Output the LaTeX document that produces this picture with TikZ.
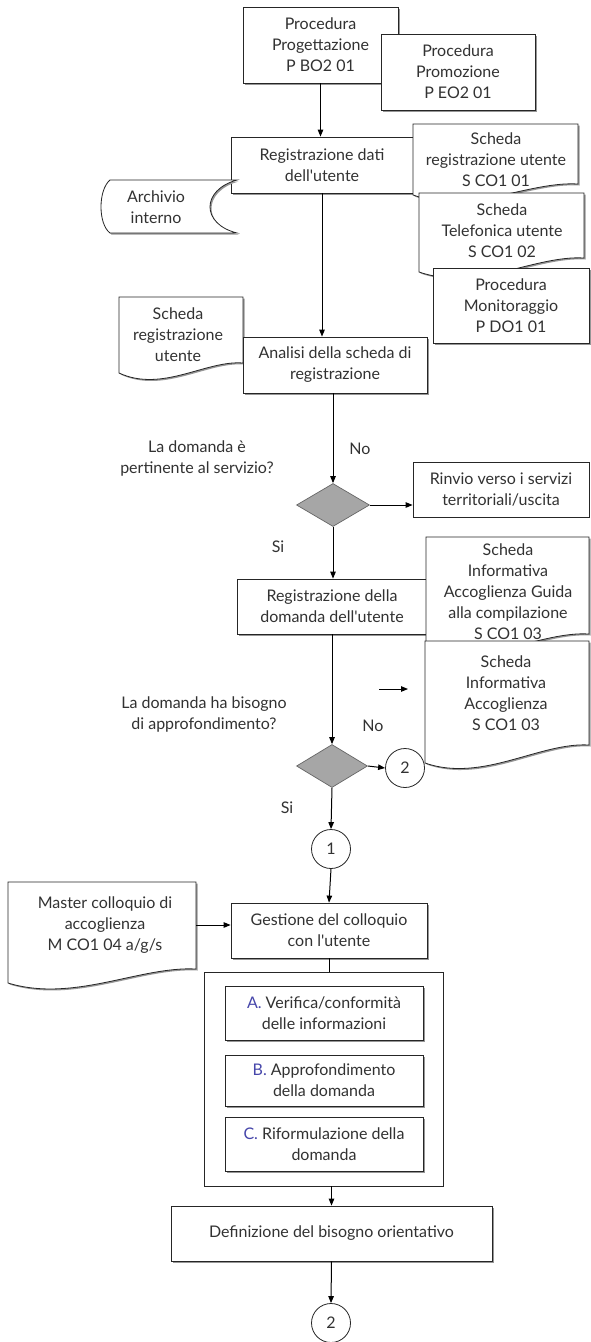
\documentclass[tikz,border=0pt]{standalone}
\usepackage{fontspec}
\setmainfont{Lato}
\usetikzlibrary{shapes.geometric, arrows.meta, shadows}
\definecolor{txtgrey}{RGB}{50, 50, 50}
\definecolor{diagrey}{RGB}{166, 166, 166}
\definecolor{letblue}{RGB}{70, 70, 170}
\definecolor{shadegrey}{RGB}{150, 150, 150}

% document shape: left, top, right, bottom left, bottom right
\newcommand{\docframe}[5]{%
  \path[fill=shadegrey, shift={(1.5,1.5)}] (#1,#2) -- (#3,#2) -- (#3,#5)
    .. controls ({#3-0.3*(#3-#1)},{#5-3}) and ({#1+0.35*(#3-#1)},{#4+20}) .. (#1,#4) -- cycle;
  \draw[doc] (#1,#2) -- (#3,#2) -- (#3,#5)
    .. controls ({#3-0.3*(#3-#1)},{#5-3}) and ({#1+0.35*(#3-#1)},{#4+20}) .. (#1,#4) -- cycle;}

\begin{document}
\begin{tikzpicture}[x=1pt, y=-1pt,
  font=\fontsize{16}{21}\selectfont, text=txtgrey,
  box/.style={draw=black!85, fill=white, line width=0.8pt, align=center, inner sep=2pt},
  shbox/.style={box, drop shadow={shadow xshift=1.5pt, shadow yshift=-1.5pt, fill=shadegrey, opacity=1}},
  doc/.style={draw=black!85, fill=white, line width=0.8pt},
  txt/.style={align=center, inner sep=0pt},
  decision/.style={diamond, draw=black!60, fill=diagrey, inner sep=0pt, line width=0.7pt},
  conn/.style={circle, draw=black!85, fill=white, minimum size=39pt, inner sep=0pt, line width=0.8pt},
  arr/.style={line width=1pt, -{Triangle[length=7pt, width=5.5pt]}}]

  \fill[white] (0,0) rectangle (590,1342);
  \useasboundingbox (0,0) rectangle (590,1342);

  % Procedures at the top
  \node[shbox, minimum width=155pt, minimum height=76pt] (progett) at (320.5,45) {Procedura\\Progettazione\\P BO2 01};
  \node[shbox, minimum width=154pt, minimum height=76pt] (promoz) at (458,72) {Procedura\\Promozione\\P EO2 01};

  % Registrazione dati
  \node[shbox, minimum width=182pt, minimum height=56pt] (regdati) at (322,165) {Registrazione dati\\dell\textquotesingle utente};
  \draw[arr] (progett.south) -- (progett.south |- regdati.north);

  % Archivio interno
  \path[fill=shadegrey, shift={(1.5,1.5)}] (110,180) -- (237,180) .. controls (201,190) and (201,224) .. (237,233)
    -- (110,233) .. controls (98,224) and (98,190) .. (110,180) -- cycle;
  \draw[doc] (110,180) -- (237,180) .. controls (201,190) and (201,224) .. (237,233)
    -- (110,233) .. controls (98,224) and (98,190) .. (110,180) -- cycle;
  \node[txt] (archivio) at (156,207) {Archivio\\interno};

  % Schede on the right
  \docframe{413}{124}{578}{195}{184}
  \node[txt] (schedareg) at (496,160) {Scheda\\registrazione utente\\S CO1 01};
  \docframe{419}{193}{584}{272}{258}
  \node[txt] (schedatel) at (502,231) {Scheda\\Telefonica utente\\S CO1 02};
  \node[shbox, minimum width=156pt, minimum height=75pt] (monitor) at (511,305.5) {Procedura\\Monitoraggio\\P DO1 01};

  % Analisi
  \docframe{119}{297}{243}{373}{363}
  \node[txt] (schedareg2) at (178,335) {Scheda\\registrazione\\utente};
  \node[shbox, minimum width=184pt, minimum height=56pt] (analisi) at (335,365) {Analisi della scheda di\\registrazione};
  \draw[arr] (regdati.south) -- (regdati.south |- analisi.north);

  % First decision
  \node[txt] (quest1) at (197,458) {La domanda è\\pertinente al servizio?};
  \node[decision, minimum width=73pt, minimum height=43pt] (dia1) at (333,505) {};
  \draw[arr] (dia1.north |- analisi.south) -- (dia1.north);
  \node[txt] (no1) at (360,449) {No};
  \node[box, minimum width=176pt, minimum height=55pt] (rinvio) at (501,489.5) {Rinvio verso i servizi\\territoriali/uscita};
  \draw[arr] (dia1.east) -- (rinvio.west |- dia1.east);
  \node[txt] (si1) at (278,547) {Si};

  % Registrazione della domanda
  \node[shbox, minimum width=190pt, minimum height=55pt] (regdom) at (332,606.5) {Registrazione della\\domanda dell\textquotesingle utente};
  \draw[arr] (dia1.south) -- (dia1.south |- regdom.north);
  \docframe{426}{537}{589}{648}{634}
  \node[txt] (guida) at (508,592) {Scheda\\Informativa\\Accoglienza Guida\\alla compilazione\\S CO1 03};
  \docframe{425}{641}{589}{763}{745}
  \node[txt] (infoacc) at (506,693) {Scheda\\Informativa\\Accoglienza\\S CO1 03};

  % Second decision
  \node[txt] (quest2) at (204,714) {La domanda ha bisogno\\di approfondimento?};
  \coordinate (stray1) at (379,689);
  \coordinate (stray2) at (408,689);
  \draw[arr] (stray1) -- (stray2);
  \node[decision, minimum width=71pt, minimum height=43pt] (dia2) at (332,766) {};
  \draw[arr] (regdom.south -| dia2.north) -- (dia2.north);
  \node[txt] (no2) at (373,726) {No};
  \node[conn] (conn2a) at (405,768) {2};
  \draw[arr] (dia2.east) -- (conn2a.west);
  \node[txt] (si2) at (287,808) {Si};
  \node[conn] (conn1) at (331,849) {1};
  \draw[arr] (dia2.south) -- (conn1.north);

  % Colloquio
  \docframe{8}{882}{196}{983}{969}
  \node[txt] (master) at (105,925) {Master colloquio di\\accoglienza\\M CO1 04 a/g/s};
  \node[shbox, minimum width=196pt, minimum height=55pt] (gestione) at (329,930.5) {Gestione del colloquio\\con l\textquotesingle utente};
  \draw[arr] (conn1.south) -- (gestione.north);
  \draw[arr] (master.east -| 196,0) -- (gestione.west |- master.east);

  % Fasi del colloquio
  \node[box, minimum width=239pt, minimum height=214pt] (fasi) at (323.5,1079) {};
  \draw[line width=0.8pt] (gestione.south) -- (gestione.south |- fasi.north);
  \node[shbox, minimum width=198pt, minimum height=54pt] (fasea) at (324,1013) {\textcolor{letblue}{A.} Verifica/conformità\\delle informazioni};
  \node[shbox, minimum width=198pt, minimum height=51pt] (faseb) at (324,1080.5) {\textcolor{letblue}{B.} Approfondimento\\della domanda};
  \node[shbox, minimum width=198pt, minimum height=54pt] (fasec) at (324,1144) {\textcolor{letblue}{C.} Riformulazione della\\domanda};

  % Definizione
  \node[shbox, minimum width=321pt, minimum height=55pt] (definiz) at (331.5,1233.5) {Definizione del bisogno orientativo};
  \draw[arr] (fasi.south -| definiz.north) -- (definiz.north);
  \node[conn] (conn2b) at (331,1323) {2};
  \draw[arr] (definiz.south) -- (conn2b.north);
\end{tikzpicture}
\end{document}
